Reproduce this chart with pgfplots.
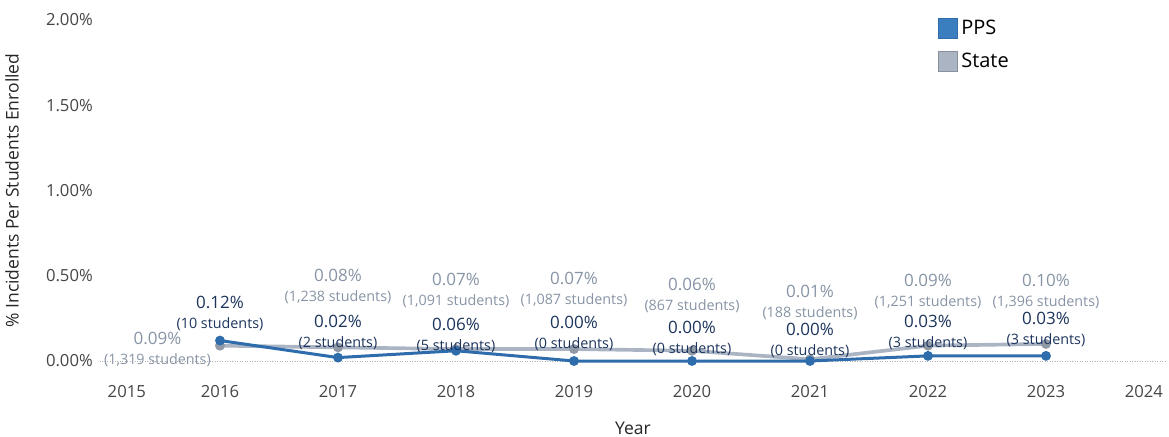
\documentclass[border=0pt]{standalone}
\usepackage{fontspec}
\setmainfont{Open Sans}
\usepackage{pgfplots}
\pgfplotsset{compat=1.18}
\definecolor{ppsline}{RGB}{46,108,172}
\definecolor{ppsfill}{RGB}{58,126,191}
\definecolor{stateline}{RGB}{170,180,194}
\definecolor{ppslab}{RGB}{28,52,92}
\definecolor{statelab}{RGB}{135,148,165}
\definecolor{ticklab}{RGB}{70,70,70}
\protected\def\lbl#1#2{{\fontsize{10.2}{12}\selectfont #1\%}\\{\fontsize{8.6}{12}\selectfont (#2 students)}}
\begin{document}
\begin{tikzpicture}
\begin{axis}[
  at={(0,0)}, anchor=south west,
  scale only axis, width=637.2pt, height=204.6pt,
  xmin=2015, xmax=2024, ymin=0, ymax=2,
  clip=false,
  axis line style={draw=none}, tick style={draw=none},
  xtick={2015.21,2016,2017,2018,2019,2020,2021,2022,2023,2023.83},
  xticklabels={2015,2016,2017,2018,2019,2020,2021,2022,2023,2024},
  ytick={0,0.5,1,1.5,2},
  yticklabels={0.00\%,0.50\%,1.00\%,1.50\%,2.00\%},
  tick label style={font=\fontsize{10}{12}\selectfont, text=ticklab},
  yticklabel style={xshift=-2pt},
  xticklabel style={yshift=-11pt},
  xlabel={Year}, ylabel={\% Incidents Per Students Enrolled},
  xlabel style={at={(axis description cs:0.5,-0.1965)}, anchor=center, font=\fontsize{10.5}{12}\selectfont, text=black!85},
  ylabel style={at={(axis description cs:-0.0847,0.5)}, anchor=center, font=\fontsize{10.5}{12}\selectfont, text=black!85},
  legend style={at={(axis description cs:0.787,1.01)}, anchor=north west, draw=none, fill=none,
    font=\fontsize{12}{14}\selectfont, row sep=5.4pt, inner sep=0pt},
  legend cell align=left,
]
\addlegendimage{legend image code/.code={\fill[ppsfill,draw=ppsline] (0pt,-6pt) rectangle (11.5pt,6pt);}}
\addlegendentry{PPS}
\addlegendimage{legend image code/.code={\fill[stateline,draw=stateline!80!black] (0pt,-6pt) rectangle (11.5pt,6pt);}}
\addlegendentry{State}
% zero line
\addplot[forget plot, densely dotted, gray!60, line width=0.5pt] coordinates {(2014.98,0) (2024.01,0)};
% State
\addplot[forget plot, stateline, line width=2.2pt, mark=*, mark size=1.8pt, mark options={fill=stateline!85!black, draw=stateline!85!black}] coordinates {
(2016,0.09) (2017,0.08) (2018,0.07) (2019,0.07) (2020,0.06) (2021,0.01) (2022,0.09) (2023,0.10)};
% PPS
\addplot[forget plot, ppsline, line width=1.8pt, mark=*, mark size=2pt, mark options={fill=ppsline}] coordinates {
(2016,0.12) (2017,0.02) (2018,0.06) (2019,0.00) (2020,0.00) (2021,0.00) (2022,0.03) (2023,0.03)};
% State labels
\addplot[forget plot, draw=none, mark=none, point meta=explicit symbolic, nodes near coords, nodes near coords align=center,
  every node near coord/.append style={align=center, text=statelab, inner sep=0pt}] coordinates {
(2015.47,0.065) [\lbl{0.09}{1,319}]
(2017,0.437) [\lbl{0.08}{1,238}]
(2018,0.416) [\lbl{0.07}{1,091}]
(2019,0.419) [\lbl{0.07}{1,087}]
(2020,0.387) [\lbl{0.06}{867}]
(2021,0.346) [\lbl{0.01}{188}]
(2022,0.405) [\lbl{0.09}{1,251}]
(2023,0.405) [\lbl{0.10}{1,396}]};
% PPS labels
\addplot[forget plot, draw=none, mark=none, point meta=explicit symbolic, nodes near coords, nodes near coords align=center,
  every node near coord/.append style={align=center, text=ppslab, inner sep=0pt}] coordinates {
(2016,0.276) [\lbl{0.12}{10}]
(2017,0.170) [\lbl{0.02}{2}]
(2018,0.152) [\lbl{0.06}{5}]
(2019,0.164) [\lbl{0.00}{0}]
(2020,0.135) [\lbl{0.00}{0}]
(2021,0.123) [\lbl{0.00}{0}]
(2022,0.170) [\lbl{0.03}{3}]
(2023,0.182) [\lbl{0.03}{3}]};
\end{axis}
\pgfresetboundingbox
\path[use as bounding box] (-61.2pt,-45.6pt) rectangle (640.2pt,216.6pt);
\end{tikzpicture}
\end{document}
